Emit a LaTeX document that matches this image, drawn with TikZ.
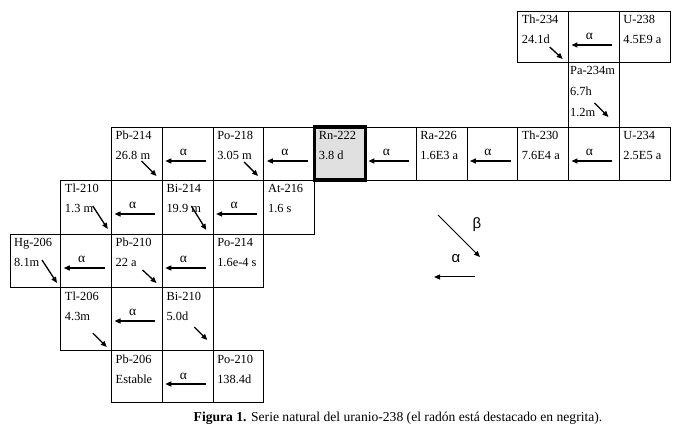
\documentclass[tikz,border=0pt]{standalone}
\usepackage{fontspec}
\setmainfont{Liberation Serif}
\newfontfamily\legfont{Liberation Sans}
\usetikzlibrary{arrows.meta}
\tikzset{
  cell/.style={draw, line width=0.8pt, minimum width=50.77pt, minimum height=#1, inner sep=0pt, outer sep=0pt},
  txt/.style={anchor=base west, inner sep=0pt, font=\fontsize{12.4}{14}\selectfont},
  alab/.style={anchor=base, inner sep=0pt, font=\fontsize{13.5}{15}\selectfont},
  arr/.style={line width=1.3pt, -{Triangle[length=6pt,width=5pt]}},
  legarr/.style={line width=1pt, -{Triangle[length=6pt,width=5pt]}},
  leglab/.style={inner sep=0pt, font=\legfont\fontsize{15}{17}\selectfont},
}
\newcommand\nucl[3]{%
  \node[txt] (#1-1) at ([shift={(4,13)}]#1.north west) {#2};
  \node[txt] (#1-2) at ([shift={(4,33)}]#1.north west) {#3};}
\newcommand\alfa[1]{%
  \draw[arr] ([shift={(-7,34)}]#1.north east) -- ([shift={(3,34)}]#1.north west);
  \node[alab] (#1-l) at ([shift={(21,29)}]#1.north west) {α};}
\newcommand\decay[5]{%
  \draw[arr] ([shift={(#2,#3)}]#1.north west) -- ([shift={(#4,#5)}]#1.north west);}
\begin{document}
\begin{tikzpicture}[x=1pt,y=-1pt]
\useasboundingbox (0,0) rectangle (677,438);
% Row A
\node[cell=51] (th234) at (543.085,36.5) {};
\node[cell=51] (aA) at (593.855,36.5) {};
\node[cell=51] (u238) at (644.625,36.5) {};
% Row B
\node[cell=65] (pa234) at (593.855,94.5) {};
% Row C
\node[cell=53] (pb214) at (136.925,153.5) {};
\node[cell=53] (aC1) at (187.695,153.5) {};
\node[cell=53] (po218) at (238.465,153.5) {};
\node[cell=53] (aC2) at (289.235,153.5) {};
\node[cell=53] (aC3) at (390.775,153.5) {};
\node[cell=53] (ra226) at (441.545,153.5) {};
\node[cell=53] (aC4) at (492.315,153.5) {};
\node[cell=53] (th230) at (543.085,153.5) {};
\node[cell=53] (aC5) at (593.855,153.5) {};
\node[cell=53] (u234) at (644.625,153.5) {};
\node[cell=53, fill=black!12, line width=3.6pt] (rn222) at (340.005,153.5) {};
% Row D
\node[cell=54] (tl210) at (86.155,207) {};
\node[cell=54] (aD1) at (136.925,207) {};
\node[cell=54] (bi214) at (187.695,207) {};
\node[cell=54] (aD2) at (238.465,207) {};
\node[cell=54] (at216) at (289.235,207) {};
% Row E
\node[cell=53] (hg206) at (35.385,260.5) {};
\node[cell=53] (aE1) at (86.155,260.5) {};
\node[cell=53] (pb210) at (136.925,260.5) {};
\node[cell=53] (aE2) at (187.695,260.5) {};
\node[cell=53] (po214) at (238.465,260.5) {};
% Row F
\node[cell=63] (tl206) at (86.155,318.5) {};
\node[cell=63] (aF1) at (136.925,318.5) {};
\node[cell=63] (bi210) at (187.695,318.5) {};
% Row G
\node[cell=52] (pb206) at (136.925,376) {};
\node[cell=52] (aG1) at (187.695,376) {};
\node[cell=52] (po210) at (238.465,376) {};
% texts
\nucl{th234}{Th-234}{24.1d}
\nucl{u238}{U-238}{4.5E9 a}
\node[txt] (pa234-1) at ([shift={(1.5,13)}]pa234.north west) {Pa-234m};
\node[txt] (pa234-2) at ([shift={(1.5,34)}]pa234.north west) {6.7h};
\node[txt] (pa234-3) at ([shift={(1.5,55)}]pa234.north west) {1.2m};
\nucl{pb214}{Pb-214}{26.8 m}
\nucl{po218}{Po-218}{3.05 m}
\nucl{rn222}{Rn-222}{3.8 d}
\nucl{ra226}{Ra-226}{1.6E3 a}
\nucl{th230}{Th-230}{7.6E4 a}
\nucl{u234}{U-234}{2.5E5 a}
\nucl{tl210}{Tl-210}{1.3 m}
\nucl{bi214}{Bi-214}{19.9 m}
\nucl{at216}{At-216}{1.6 s}
\nucl{hg206}{Hg-206}{8.1m}
\nucl{pb210}{Pb-210}{22 a}
\nucl{po214}{Po-214}{1.6e-4 s}
\nucl{tl206}{Tl-206}{4.3m}
\nucl{bi210}{Bi-210}{5.0d}
\nucl{pb206}{Pb-206}{Estable}
\nucl{po210}{Po-210}{138.4d}
% alpha arrows
\alfa{aA}
\alfa{aC1}
\alfa{aC2}
\alfa{aC3}
\alfa{aC4}
\alfa{aC5}
\alfa{aD1}
\alfa{aD2}
\alfa{aE1}
\alfa{aE2}
\alfa{aF1}
\alfa{aG1}
% beta arrows
\decay{th234}{32}{36}{45}{48}
\decay{pa234}{26}{41}{40}{55}
\decay{pb214}{30}{34}{45}{49}
\decay{po218}{31}{35}{45}{49}
\decay{tl210}{32}{26}{47}{49}
\decay{bi214}{29}{26}{44}{50}
\decay{hg206}{32}{26}{47}{49}
\decay{pb210}{31}{36}{45}{49}
\decay{tl206}{32}{46}{46}{60}
\decay{bi210}{32}{40}{45}{53}
% legend
\coordinate (lb1) at (438,215);
\coordinate (lb2) at (480,257);
\draw[legarr] (lb1) -- (lb2);
\node[leglab] (lbeta) at (477,225) {β};
\coordinate (la1) at (475,277);
\coordinate (la2) at (434,277);
\draw[legarr] (la1) -- (la2);
\node[leglab] (lalpha) at (456,259) {α};
% caption
\node[inner sep=0pt, font=\fontsize{13.6}{16}\selectfont] (cap) at (398,418)
  {\textbf{Figura 1.} Serie natural del uranio-238 (el radón está destacado en negrita).};
\end{tikzpicture}
\end{document}
